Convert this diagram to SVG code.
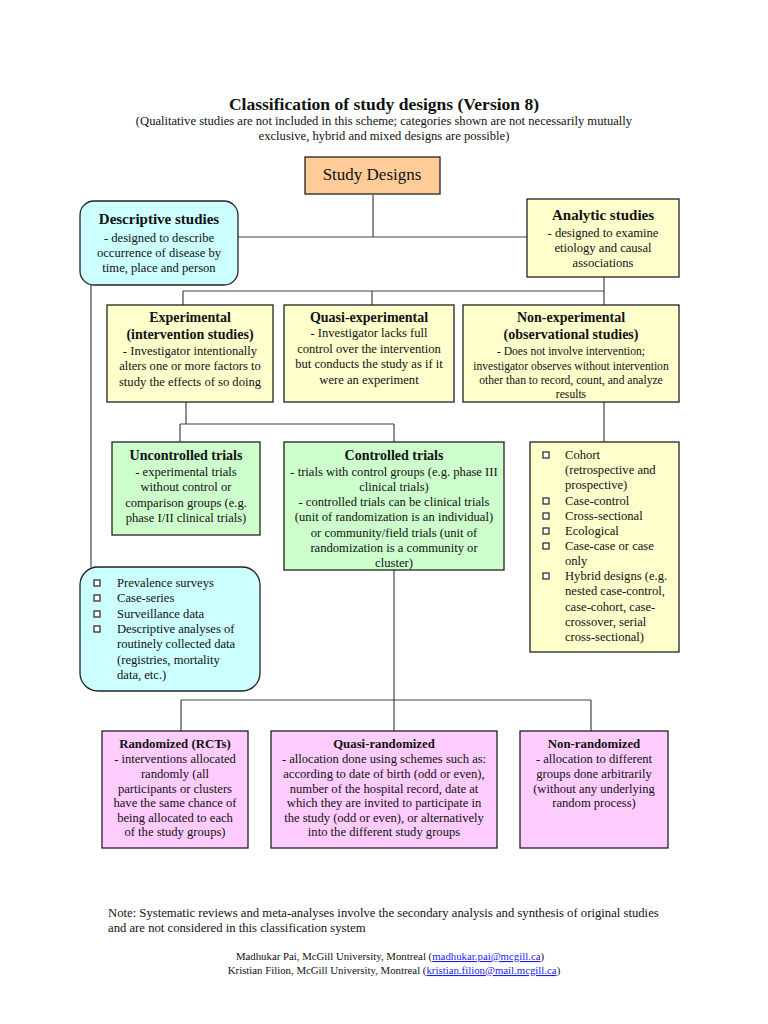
<svg xmlns="http://www.w3.org/2000/svg" width="768" height="1024" viewBox="0 0 768 1024">
<style>
text{font-family:"Liberation Serif","Times New Roman",serif;fill:#111}
.t{font-size:12.6px;text-anchor:middle}
.b{font-size:14px;font-weight:bold;text-anchor:middle}
.bb{font-size:15px}
.l{font-size:12.6px}
.s{font-size:11.6px}
.pb{font-size:12.8px}
.box{stroke:#222;stroke-width:1.3}
.y{fill:#ffffcc}.c{fill:#ccffff}.g{fill:#ccffcc}.p{fill:#ffccff}.o{fill:#ffcc99}
.con{stroke:#444;stroke-width:1.2;fill:none}
.blt{fill:#fff;stroke:#222;stroke-width:1.2}
.lnk{fill:#1a1aff;text-decoration:underline}
</style>
<rect width="768" height="1024" fill="#fff"/>
<text x="384" y="110" style="font-size:17.5px;font-weight:bold;text-anchor:middle">Classification of study designs (Version 8)</text>
<text x="384" y="125" class="t">(Qualitative studies are not included in this scheme; categories shown are not necessarily mutually</text>
<text x="384" y="140" class="t">exclusive, hybrid and mixed designs are possible)</text>

<g id="connectors">
<path class="con" d="M373 195V237M238 237H527"/>
<path class="con" d="M91 285V567"/>
<path class="con" d="M604 277V305M183 291H604M183 291V305M372 291V305"/>
<path class="con" d="M186 402V424M180 424H394M180 424V442M394 424V442"/>
<path class="con" d="M604 402V442"/>
<path class="con" d="M394 570V731M181 700H591M181 700V731M591 700V731"/>
</g>

<g id="study-designs">
<rect class="box o" x="305" y="157" width="135" height="37"/>
<text x="372" y="180" style="font-size:17px;text-anchor:middle">Study Designs</text>
</g>

<g id="descriptive">
<rect class="box c" x="80" y="201" width="158" height="84" rx="14"/>
<text x="159" y="224" class="b bb">Descriptive studies</text>
<text x="159" y="242" class="t">- designed to describe</text>
<text x="159" y="257" class="t">occurrence of disease by</text>
<text x="159" y="272" class="t">time, place and person</text>
</g>

<g id="analytic">
<rect class="box y" x="527" y="199" width="152" height="78"/>
<text x="603" y="220" class="b bb">Analytic studies</text>
<text x="603" y="237" class="t">- designed to examine</text>
<text x="603" y="252" class="t">etiology and causal</text>
<text x="603" y="267" class="t">associations</text>
</g>

<g id="experimental">
<rect class="box y" x="107" y="305" width="166" height="97"/>
<text x="190" y="322" class="b">Experimental</text>
<text x="190" y="339" class="b">(intervention studies)</text>
<text x="190" y="355" class="t">- Investigator intentionally</text>
<text x="190" y="370" class="t">alters one or more factors to</text>
<text x="190" y="386" class="t">study the effects of so doing</text>
</g>

<g id="quasi-experimental">
<rect class="box y" x="284" y="305" width="170" height="97"/>
<text x="369" y="322" class="b">Quasi-experimental</text>
<text x="369" y="337" class="t">- Investigator lacks full</text>
<text x="369" y="353" class="t">control over the intervention</text>
<text x="369" y="368" class="t">but conducts the study as if it</text>
<text x="369" y="384" class="t">were an experiment</text>
</g>

<g id="non-experimental">
<rect class="box y" x="463" y="305" width="216" height="97"/>
<text x="571" y="322" class="b">Non-experimental</text>
<text x="571" y="339" class="b">(observational studies)</text>
<text x="571" y="355" class="t s">- Does not involve intervention;</text>
<text x="571" y="370" class="t s">investigator observes without intervention</text>
<text x="571" y="384" class="t s">other than to record, count, and analyze</text>
<text x="571" y="398" class="t s">results</text>
</g>

<g id="uncontrolled">
<rect class="box g" x="112" y="442" width="148" height="93"/>
<text x="186" y="460" class="b">Uncontrolled trials</text>
<text x="186" y="476" class="t">- experimental trials</text>
<text x="186" y="491" class="t">without control or</text>
<text x="186" y="507" class="t">comparison groups (e.g.</text>
<text x="186" y="522" class="t">phase I/II clinical trials)</text>
</g>

<g id="controlled">
<rect class="box g" x="284" y="442" width="220" height="128"/>
<text x="394" y="460" class="b">Controlled trials</text>
<text x="394" y="476" class="t">- trials with control groups (e.g. phase III</text>
<text x="394" y="491" class="t">clinical trials)</text>
<text x="394" y="506" class="t">- controlled trials can be clinical trials</text>
<text x="394" y="521" class="t">(unit of randomization is an individual)</text>
<text x="394" y="537" class="t">or community/field trials (unit of</text>
<text x="394" y="552" class="t">randomization is a community or</text>
<text x="394" y="567" class="t">cluster)</text>
</g>

<g id="analytic-list">
<rect class="box y" x="530" y="442" width="149" height="210"/>
<rect class="blt" x="543" y="452" width="6" height="6"/>
<rect class="blt" x="543" y="498" width="6" height="6"/>
<rect class="blt" x="543" y="513" width="6" height="6"/>
<rect class="blt" x="543" y="528" width="6" height="6"/>
<rect class="blt" x="543" y="543" width="6" height="6"/>
<rect class="blt" x="543" y="573" width="6" height="6"/>
<text x="565" y="459" class="l">Cohort</text>
<text x="565" y="474" class="l">(retrospective and</text>
<text x="565" y="489" class="l">prospective)</text>
<text x="565" y="505" class="l">Case-control</text>
<text x="565" y="520" class="l">Cross-sectional</text>
<text x="565" y="535" class="l">Ecological</text>
<text x="565" y="550" class="l">Case-case or case</text>
<text x="565" y="565" class="l">only</text>
<text x="565" y="580" class="l">Hybrid designs (e.g.</text>
<text x="565" y="595" class="l">nested case-control,</text>
<text x="565" y="611" class="l">case-cohort, case-</text>
<text x="565" y="626" class="l">crossover, serial</text>
<text x="565" y="641" class="l">cross-sectional)</text>
</g>

<g id="descriptive-list">
<rect class="box c" x="80" y="567" width="180" height="124" rx="18"/>
<rect class="blt" x="94" y="580" width="6" height="6"/>
<rect class="blt" x="94" y="595" width="6" height="6"/>
<rect class="blt" x="94" y="611" width="6" height="6"/>
<rect class="blt" x="94" y="626" width="6" height="6"/>
<text x="117" y="587" class="l">Prevalence surveys</text>
<text x="117" y="602" class="l">Case-series</text>
<text x="117" y="618" class="l">Surveillance data</text>
<text x="117" y="633" class="l">Descriptive analyses of</text>
<text x="117" y="648" class="l">routinely collected data</text>
<text x="117" y="664" class="l">(registries, mortality</text>
<text x="117" y="679" class="l">data, etc.)</text>
</g>

<g id="randomized">
<rect class="box p" x="102" y="731" width="146" height="117"/>
<text x="175" y="748" class="b pb">Randomized (RCTs)</text>
<text x="175" y="763" class="t">- interventions allocated</text>
<text x="175" y="778" class="t">randomly (all</text>
<text x="175" y="793" class="t">participants or clusters</text>
<text x="175" y="807" class="t">have the same chance of</text>
<text x="175" y="822" class="t">being allocated to each</text>
<text x="175" y="836" class="t">of the study groups)</text>
</g>

<g id="quasi-randomized">
<rect class="box p" x="271" y="731" width="226" height="117"/>
<text x="384" y="748" class="b pb">Quasi-randomized</text>
<text x="384" y="763" class="t">- allocation done using schemes such as:</text>
<text x="384" y="778" class="t">according to date of birth (odd or even),</text>
<text x="384" y="793" class="t">number of the hospital record, date at</text>
<text x="384" y="807" class="t">which they are invited to participate in</text>
<text x="384" y="822" class="t">the study (odd or even), or alternatively</text>
<text x="384" y="836" class="t">into the different study groups</text>
</g>

<g id="non-randomized">
<rect class="box p" x="520" y="731" width="148" height="117"/>
<text x="594" y="748" class="b pb">Non-randomized</text>
<text x="594" y="763" class="t">- allocation to different</text>
<text x="594" y="778" class="t">groups done arbitrarily</text>
<text x="594" y="793" class="t">(without any underlying</text>
<text x="594" y="807" class="t">random process)</text>
</g>

<text x="108" y="917" style="font-size:12.7px">Note: Systematic reviews and meta-analyses involve the secondary analysis and synthesis of original studies</text>
<text x="108" y="932" style="font-size:12.7px">and are not considered in this classification system</text>
<text x="390" y="960" style="font-size:10.8px;text-anchor:middle">Madhukar Pai, McGill University, Montreal (<tspan class="lnk">madhukar.pai@mcgill.ca</tspan>)</text>
<text x="394" y="974" style="font-size:10.8px;text-anchor:middle">Kristian Filion, McGill University, Montreal (<tspan class="lnk">kristian.filion@mail.mcgill.ca</tspan>)</text>
</svg>
